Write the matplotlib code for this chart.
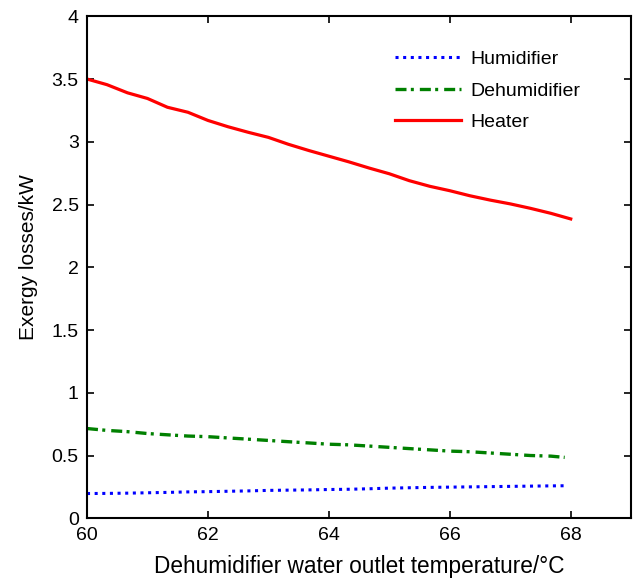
import matplotlib.pyplot as plt
import numpy as np

plt.rcParams['font.family'] = ['Liberation Sans', 'DejaVu Sans']

# data
temp = [60, 60.33, 60.67, 61, 61.33, 61.67, 62, 62.33, 62.67, 63, 63.33, 63.67,
        64, 64.33, 64.67, 65, 65.33, 65.67, 66, 66.33, 66.67, 67, 67.33, 67.67, 68]
heater = [3.50, 3.455, 3.39, 3.345, 3.275, 3.235, 3.17, 3.12, 3.075, 3.035, 2.98, 2.93,
          2.885, 2.84, 2.79, 2.745, 2.69, 2.645, 2.61, 2.57, 2.535, 2.505, 2.47, 2.43, 2.385]
dehum = [0.715, 0.70, 0.69, 0.675, 0.665, 0.655, 0.65, 0.64, 0.63, 0.62, 0.61, 0.60,
         0.59, 0.585, 0.575, 0.565, 0.555, 0.545, 0.535, 0.53, 0.52, 0.51, 0.50, 0.495, 0.485]
humid = [0.197, 0.198, 0.200, 0.203, 0.206, 0.210, 0.212, 0.215, 0.218, 0.222, 0.224, 0.226,
         0.229, 0.231, 0.235, 0.240, 0.243, 0.246, 0.248, 0.250, 0.252, 0.254, 0.256, 0.258, 0.259]

fig = plt.figure(figsize=(6.35, 5.81), dpi=100)
ax = fig.add_axes([0.137, 0.108, 0.857, 0.864])

x_short = temp[:-1] + [67.9]
ax.plot(x_short, humid, color='blue', linestyle=(0, (1, 1.5)), linewidth=2.2, label='Humidifier')
ax.plot(x_short, dehum, color='green', linestyle=(0, (3.3, 1.3, 0.9, 1.8)), linewidth=2.4, label='Dehumidifier')
ax.plot(temp, heater, color='red', linewidth=2.3, label='Heater')

ax.set_xlim(60, 69)
ax.set_ylim(0, 4)
ax.set_xticks([60, 62, 64, 66, 68])
ax.set_yticks(np.arange(0, 4.01, 0.5))
ax.set_yticklabels(['0', '0.5', '1', '1.5', '2', '2.5', '3', '3.5', '4'])
ax.tick_params(direction='in', top=True, right=True, length=5, width=1.2, labelsize=14, pad=6)
for s in ax.spines.values():
    s.set_linewidth(1.5)

ax.set_xlabel('Dehumidifier water outlet temperature/°C', fontsize=16.3, labelpad=8)
ax.set_ylabel('Exergy losses/kW', fontsize=15, labelpad=10)
ax.yaxis.label.set_y(0.52)

ax.legend(loc='upper right', bbox_to_anchor=(0.938, 0.967), frameon=False, fontsize=14,
          handlelength=3.4, handletextpad=0.45, labelspacing=0.72)

fig.savefig('out.png', dpi=100)
